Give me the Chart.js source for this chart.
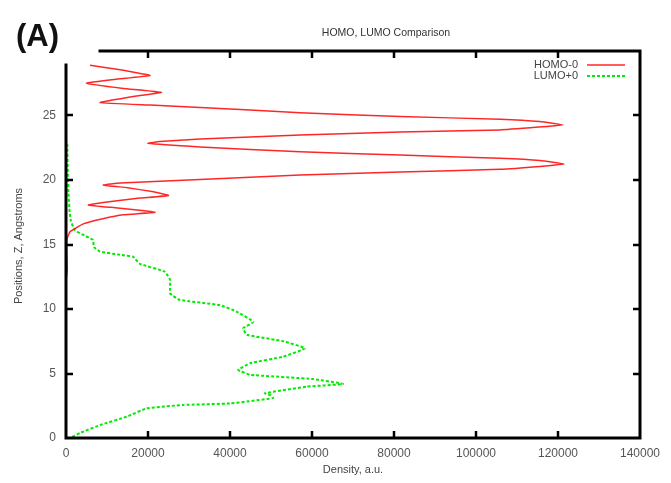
<!DOCTYPE html>
<html>
<head>
<meta charset="utf-8">
<script src="https://cdn.jsdelivr.net/npm/chart.js@4"></script>
<style>
  html, body { margin: 0; padding: 0; background: #fff; }
  canvas { display: block; }
</style>
</head>
<body>
<canvas id="c" width="671" height="483"></canvas>
<script>
/* ── Datos: posición Z (Å) y densidad (u.a.) ── */
const homoZ = [28.9, 28.5, 28.1, 27.8, 27.5, 27.1, 26.8, 26.4, 26.0,
  25.81, 25.62, 25.22, 24.92, 24.71, 24.53, 24.26, 24.11, 23.88, 23.72, 23.49, 23.18, 22.98, 22.84,
  22.56, 22.19, 21.94, 21.68, 21.51, 21.24, 21.05, 20.83, 20.62, 20.39, 20.04, 19.77, 19.61,
  19.4, 19.1, 18.8, 18.6, 18.3, 18.06, 17.85, 17.65, 17.5, 17.3, 17.0, 16.6, 16.0, 15.5, 15.1, 14.0, 13.0, 12.5, 12.0, 0];
const homoD = [5850, 14000, 20500, 12000, 5000, 14000, 23300, 15000, 8300,
  20500, 32700, 57100, 81500, 105900, 115600, 121200, 115600, 105900, 81500, 57100, 32700, 22900, 20000,
  32700, 57100, 81500, 105900, 115600, 121500, 115600, 105900, 81500, 57100, 32700, 13200, 9100,
  15000, 21000, 25000, 18000, 10000, 5450, 12000, 18000, 21700, 14000, 9000, 4200, 1000, 300, 160, 250, 300, 100, 0, 0];

const lumoZ = [22.8, 21, 19, 17.5, 16.8, 16.1, 15.7, 15.35, 14.8, 14.45, 14.2, 14.05, 13.5, 12.9, 12.25, 11.2, 10.7, 10.3, 9.8, 9.0, 8.5, 8.0, 7.5, 6.95, 6.3, 5.8, 5.27, 4.9, 4.57, 4.19, 3.98, 3.47, 3.3, 3.09, 2.68, 2.56, 2.3, 1.65, 1.0, 0.4, 0];
const lumoD = [300, 400, 600, 900, 1200, 2200, 4500, 6600, 6800, 8300, 13200, 16400, 18000, 24100, 25400, 25400, 27800, 37600, 41600, 45700, 43200, 44100, 53000, 58300, 53000, 44900, 42000, 44900, 60300, 67600, 58700, 48500, 50000, 50500, 40000, 28600, 19700, 14800, 8300, 3500, 1000];

const xTicks = [0, 20000, 40000, 60000, 80000, 100000, 120000, 140000];
const yTicks = [0, 5, 10, 15, 20, 25, 30];

const series = [
  { label: 'HOMO-0', z: homoZ, d: homoD, color: 'rgba(255,0,0,0.85)', dash: [] },
  { label: 'LUMO+0', z: lumoZ, d: lumoD, color: 'rgb(0,235,0)', dash: [3, 2] },
];

const FONT = '"Liberation Sans", Arial, sans-serif';

/* ── Marco, ticks hacia adentro, títulos y leyenda ── */
const framePlugin = {
  id: 'frame',
  afterDatasetsDraw(chart) {
    const { ctx, chartArea: a, scales: { x, y } } = chart;
    ctx.save();
    // tapa blanca de la esquina (recorte de la figura)
    ctx.fillStyle = '#fff';
    ctx.fillRect(0, 0, 100, 64);

    ctx.strokeStyle = '#000';
    ctx.lineWidth = 3;
    ctx.lineCap = 'square';
    ctx.beginPath();
    ctx.moveTo(a.left, 65); ctx.lineTo(a.left, a.bottom);
    ctx.lineTo(a.right, a.bottom); ctx.lineTo(a.right, a.top);
    ctx.lineTo(100, a.top);
    ctx.stroke();

    ctx.lineWidth = 2.5;
    ctx.lineCap = 'butt';
    ctx.beginPath();
    xTicks.slice(1, -1).forEach(v => {
      const px = Math.round(x.getPixelForValue(v));
      ctx.moveTo(px, a.bottom); ctx.lineTo(px, a.bottom - 7);
      ctx.moveTo(px, a.top); ctx.lineTo(px, a.top + 7);
    });
    yTicks.slice(1, -1).forEach(v => {
      const py = Math.round(y.getPixelForValue(v));
      ctx.moveTo(a.left, py); ctx.lineTo(a.left + 7, py);
      ctx.moveTo(a.right, py); ctx.lineTo(a.right - 7, py);
    });
    ctx.stroke();

    // (A)
    ctx.fillStyle = '#111';
    ctx.font = 'bold 31px ' + FONT;
    ctx.textAlign = 'left';
    ctx.textBaseline = 'alphabetic';
    ctx.fillText('(A)', 16, 46);

    // título
    ctx.fillStyle = '#333';
    ctx.font = '10.5px ' + FONT;
    ctx.textAlign = 'center';
    ctx.textBaseline = 'middle';
    ctx.fillText('HOMO, LUMO Comparison', 386, 33);

    // títulos de ejes
    ctx.fillStyle = '#444';
    ctx.font = '11px ' + FONT;
    ctx.fillText('Density, a.u.', 353, 470);
    ctx.save();
    ctx.translate(19, 246);
    ctx.rotate(-Math.PI / 2);
    ctx.fillText('Positions, Z, Angstroms', 0, 0);
    ctx.restore();

    // leyenda
    series.forEach((s, i) => {
      const ly = 65 + i * 11;
      ctx.fillStyle = '#444';
      ctx.textAlign = 'right';
      ctx.fillText(s.label, 578, ly);
      ctx.strokeStyle = s.color;
      ctx.lineWidth = i === 0 ? 1.5 : 2;
      ctx.setLineDash(s.dash);
      ctx.beginPath();
      ctx.moveTo(587, ly); ctx.lineTo(625, ly);
      ctx.stroke();
      ctx.setLineDash([]);
    });
    ctx.restore();
  }
};

new Chart(document.getElementById('c').getContext('2d'), {
  type: 'scatter',
  data: {
    datasets: series.map(s => ({
      label: s.label,
      data: s.z.map((z, i) => ({ x: s.d[i], y: z })),
      showLine: true,
      borderColor: s.color,
      borderWidth: s.dash.length ? 2 : 1.5,
      borderDash: s.dash,
      pointRadius: 0,
      tension: 0.1,
      fill: false,
    }))
  },
  options: {
    responsive: false,
    animation: false,
    layout: { padding: { top: 51, right: 31, left: 0, bottom: 0 } },
    plugins: { legend: { display: false }, tooltip: { enabled: false }, title: { display: false } },
    scales: {
      x: {
        type: 'linear', min: 0, max: 140000,
        afterBuildTicks: sc => { sc.ticks = xTicks.map(v => ({ value: v })); },
        afterFit: sc => { sc.height = 45; },
        grid: { display: false, drawTicks: false },
        border: { display: false },
        ticks: { color: '#555', font: { family: FONT, size: 12 }, padding: 8, maxRotation: 0, callback: v => String(v) },
      },
      y: {
        type: 'linear', min: 0, max: 30,
        afterBuildTicks: sc => { sc.ticks = yTicks.map(v => ({ value: v })); },
        afterFit: sc => { sc.width = 66; },
        grid: { display: false, drawTicks: false },
        border: { display: false },
        ticks: { color: '#555', font: { family: FONT, size: 12 }, padding: 10, callback: v => v === 30 ? '' : String(v) },
      }
    }
  },
  plugins: [framePlugin]
});
</script>
</body>
</html>
